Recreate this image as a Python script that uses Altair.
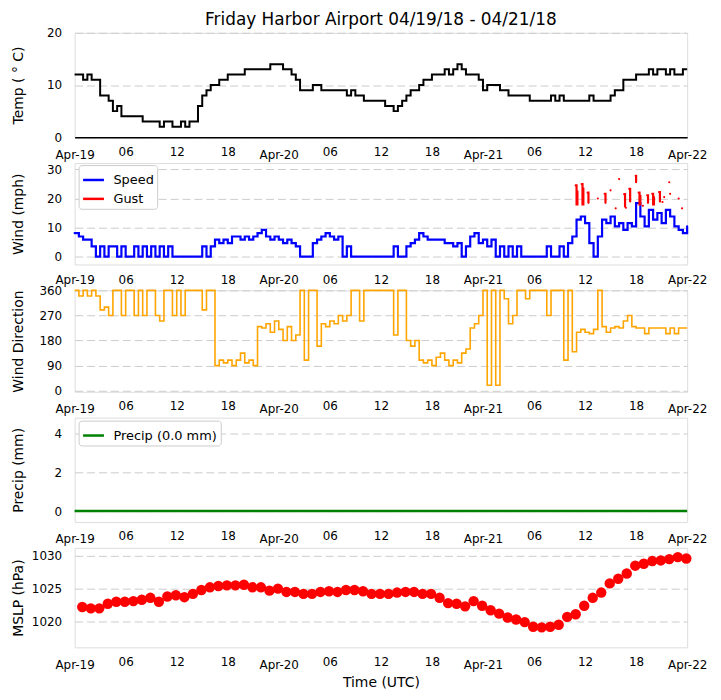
import altair as alt
import pandas as pd

FONT = "DejaVu Sans"
TITLE = "Friday Harbor Airport 04/19/18 - 04/21/18"
TICK_HOURS = [0, 6, 12, 18, 24, 30, 36, 42, 48, 54, 60, 66, 72]

# half-hourly samples starting 2018-04-19 00:00 UTC (hour 0 .. 72)
TEMP_C = [
    12, 12, 11, 12, 11, 11, 8, 8, 7, 5, 6, 4, 4, 4, 4, 4, 3, 3, 3, 3,
    2, 3, 3, 2, 2, 3, 2, 3, 3, 6, 8, 9, 10, 10, 11, 11, 12, 12, 12, 12,
    13, 13, 13, 13, 13, 13, 14, 14, 14, 13, 13, 12, 11, 9, 9, 9, 10, 10, 9, 9,
    9, 9, 9, 9, 8, 9, 8, 8, 7, 7, 7, 7, 7, 6, 6, 5, 6, 7, 8, 9,
    9, 10, 11, 11, 12, 12, 12, 13, 12, 13, 14, 13, 12, 12, 12, 11, 9, 10, 10, 10,
    9, 9, 8, 8, 8, 8, 8, 7, 7, 7, 7, 7, 8, 7, 8, 7, 7, 7, 7, 7,
    7, 8, 7, 7, 7, 7, 8, 9, 9, 11, 11, 11, 12, 12, 12, 13, 12, 13, 13, 12,
    13, 12, 12, 13, 13,
]

WIND_MPH = [
    8.1, 6.9, 5.8, 5.8, 3.5, 0, 3.5, 0, 3.5, 3.5, 0, 3.5, 0, 0, 3.5, 0, 3.5, 0, 3.5, 0,
    3.5, 0, 3.5, 0, 0, 0, 0, 0, 0, 0, 3.5, 0, 3.5, 5.8, 4.6, 5.8, 4.6, 6.9, 6.9, 5.8,
    6.9, 5.8, 6.9, 8.1, 9.2, 6.9, 5.8, 6.9, 5.8, 4.6, 5.8, 4.6, 3.5, 0, 0, 0, 4.6, 5.8, 6.9, 8.1,
    6.9, 5.8, 6.9, 0, 3.5, 0, 0, 0, 0, 0, 0, 0, 0, 0, 0, 3.5, 0, 0, 3.5, 4.6,
    5.8, 8.1, 6.9, 5.8, 5.8, 5.8, 5.8, 4.6, 4.6, 3.5, 4.6, 0, 3.5, 6.9, 8.1, 4.6, 5.8, 3.5, 5.8, 0,
    3.5, 0, 3.5, 0, 3.5, 0, 0, 0, 0, 0, 0, 3.5, 0, 0, 3.5, 0, 4.6, 6.9, 12.7, 13.8,
    11.5, 4.6, 0, 6.9, 12.7, 11.5, 13.8, 10.4, 11.5, 9.2, 11.5, 10.4, 18.4, 13.8, 10.4, 16.1, 12.7, 15.0, 11.5, 16.1,
    13.8, 10.4, 9.2, 8.1, 10.4,
]

WIND_DIR = [
    360, 340, 360, 340, 360, 340, 290, 300, 270, 360, 360, 270, 360, 360, 270, 360, 270, 360, 360, 270,
    250, 360, 360, 270, 360, 270, 360, 360, 360, 360, 290, 360, 360, 90, 110, 100, 110, 90, 110, 135,
    100, 110, 90, 230, 225, 240, 210, 250, 220, 180, 230, 180, 200, 360, 110, 360, 360, 160, 240, 230,
    250, 240, 270, 250, 270, 360, 360, 250, 360, 360, 360, 360, 360, 360, 360, 200, 360, 360, 180, 160,
    180, 110, 100, 110, 90, 120, 135, 110, 90, 110, 100, 135, 150, 225, 240, 270, 360, 20, 360, 20,
    360, 330, 240, 270, 360, 360, 330, 360, 360, 360, 360, 270, 360, 360, 360, 110, 360, 140, 210, 220,
    210, 205, 220, 360, 230, 210, 225, 230, 225, 250, 270, 230, 225, 225, 205, 225, 225, 225, 225, 205,
    225, 205, 225, 225, 225,
]

# gust reports (hour, mph, run id)
GUST_HOURS = [58.9, 59.0, 59.1, 59.6, 59.7, 59.8, 60.3, 60.4, 61.5, 62.3, 62.4, 63.0, 63.6, 64.0,
              64.6, 64.7, 64.8, 65.2, 65.3, 65.95, 66.0, 66.3, 66.4, 66.5, 66.8, 67.3, 67.4,
              67.9, 68.0, 68.1, 68.7, 68.8, 69.1, 69.3, 69.9, 70.0, 71.0, 71.4]
GUST_MPH = [24.5, 18, 22.5, 25, 18, 23.5, 22, 18.5, 20, 21.6, 18.5, 22.8, 16.6, 26.7,
            21.5, 17.2, 16.8, 23.3, 19, 27.8, 25.6, 22, 18, 21, 17.5, 21.1, 18.5,
            21.6, 18, 20.5, 22.2, 19, 18.8, 20.5, 25.6, 21.6, 20, 16.6]
GUST_RUN = [0, 0, 0, 1, 1, 1, 2, 2, 3, 4, 4, 5, 6, 7,
            8, 8, 9, 10, 10, 11, 11, 12, 12, 12, 13, 14, 14,
            15, 15, 15, 16, 16, 17, 18, 19, 20, 21, 22]

# hourly observations at HH:53
MSLP_HPA = [
    1022.2, 1022.0, 1022.0, 1022.7, 1023.0, 1023.0, 1023.1, 1023.3, 1023.6, 1023.0,
    1023.8, 1024.0, 1023.7, 1024.2, 1024.8, 1025.2, 1025.4, 1025.5, 1025.5, 1025.6,
    1025.2, 1025.2, 1024.7, 1025.0, 1024.5, 1024.5, 1024.2, 1024.2, 1024.5, 1024.6,
    1024.5, 1024.8, 1024.8, 1024.6, 1024.2, 1024.2, 1024.2, 1024.4, 1024.5, 1024.5,
    1024.2, 1024.2, 1023.6, 1022.8, 1022.7, 1022.3, 1023.1, 1022.4, 1021.7, 1021.2,
    1020.6, 1020.3, 1019.9, 1019.2, 1019.1, 1019.2, 1019.5, 1020.7, 1021.1, 1022.4,
    1023.6, 1024.4, 1025.8, 1026.5, 1027.3, 1028.5, 1028.8, 1029.2, 1029.3, 1029.5,
    1029.8, 1029.6,
]

PRECIP_MM = [
    0.0, 0.0, 0.0, 0.0, 0.0, 0.0, 0.0, 0.0, 0.0, 0.0, 0.0, 0.0, 0.0, 0.0, 0.0, 0.0, 0.0, 0.0, 0.0, 0.0,
    0.0, 0.0, 0.0, 0.0, 0.0, 0.0, 0.0, 0.0, 0.0, 0.0, 0.0, 0.0, 0.0, 0.0, 0.0, 0.0, 0.0, 0.0, 0.0, 0.0,
    0.0, 0.0, 0.0, 0.0, 0.0, 0.0, 0.0, 0.0, 0.0, 0.0, 0.0, 0.0, 0.0, 0.0, 0.0, 0.0, 0.0, 0.0, 0.0, 0.0,
    0.0, 0.0, 0.0, 0.0, 0.0, 0.0, 0.0, 0.0, 0.0, 0.0, 0.0, 0.0, 0.0,
]

half_hours = [i * 0.5 for i in range(len(TEMP_C))]
obs_hours = [k + 0.9 for k in range(len(MSLP_HPA))]
precip_hours = list(range(len(PRECIP_MM)))

df_temp = pd.DataFrame({"h": half_hours, "v": TEMP_C})
df_speed = pd.DataFrame({"h": half_hours, "v": WIND_MPH, "series": "Speed", "run": -1})
df_gust = pd.DataFrame({"h": GUST_HOURS, "v": GUST_MPH, "series": "Gust", "run": GUST_RUN})
# a lone gust report becomes a zero-length path (drawn as a dot by the round cap)
lone = df_gust[df_gust.groupby("run")["h"].transform("size") == 1]
df_wind = pd.concat([df_speed, df_gust, lone], ignore_index=True)
df_dir = pd.DataFrame({"h": half_hours, "v": WIND_DIR})
df_precip = pd.DataFrame({"h": precip_hours, "v": PRECIP_MM, "series": "Precip (0.0 mm)"})
df_mslp = pd.DataFrame({"h": obs_hours, "v": MSLP_HPA})

W = 616
LABEL_EXPR = ("datum.value == 0 ? 'Apr-19' : datum.value == 24 ? 'Apr-20' : "
              "datum.value == 48 ? 'Apr-21' : datum.value == 72 ? 'Apr-22' : "
              "(datum.value % 24 < 10 ? '0' : '') + (datum.value % 24)")
XSCALE = alt.Scale(domain=[0, 72], nice=False, zero=False)
COND_PAD = {"condition": {"test": "datum.value % 24 == 0", "value": 12}, "value": 9}


def x_enc(domain=False, title=None, pad=COND_PAD):
    return alt.X(
        "h:Q",
        scale=XSCALE,
        axis=alt.Axis(
            values=TICK_HOURS, labelExpr=LABEL_EXPR, title=title, grid=False, ticks=False,
            domain=domain, domainColor="black", domainWidth=1.5, labelFlush=False,
            labelOverlap=False, labelFontSize=12, labelFont=FONT, labelColor="black",
            labelPadding=pad,
            titleFontSize=14, titleFont=FONT, titleFontWeight="normal", titleColor="black",
            titlePadding=5,
        ),
    )


def y_enc(domain, values, title, height):
    return alt.Y(
        "v:Q",
        scale=alt.Scale(domain=domain, nice=False, zero=False),
        axis=alt.Axis(
            values=values, format="d", title=title, grid=True, gridDash=[8, 4],
            gridColor="#cccccc", gridWidth=1, ticks=False, domain=False, labelPadding=13,
            labelFontSize=12, labelFont=FONT, labelColor="black", titleX=-56,
            titleY=height / 2, titleBaseline="middle", titleFontSize=14, titleFont=FONT,
            titleFontWeight="normal", titleColor="black",
        ),
    )


def legend(x, y):
    return alt.Legend(
        title=None, orient="none", legendX=x, legendY=y, symbolType="stroke",
        symbolStrokeWidth=2.5, symbolSize=441, labelFontSize=13, labelFont=FONT,
        labelColor="black", strokeColor="#cccccc", fillColor="white", padding=3,
        cornerRadius=3, rowPadding=-1, labelOffset=8,
    )


H_T, H_W, H_D, H_P, H_M = 105, 102, 102, 105, 100

temp = alt.Chart(df_temp).mark_line(color="black", strokeWidth=2, interpolate="step-after").encode(
    x=x_enc(domain=True),
    y=y_enc([0, 20], [0, 10, 20], "Temp ( \u00b0 C)", H_T),
).properties(
    width=W, height=H_T,
    title=alt.TitleParams(TITLE, frame="group", fontSize=17, font=FONT, fontWeight="normal",
                          color="black", offset=-2),
)

wind = alt.Chart(df_wind).mark_line(
    strokeWidth=2.2, interpolate="step-after", strokeCap="round"
).encode(
    x=x_enc(pad=10),
    y=y_enc([-2.74, 32.2], [0, 10, 20, 30], "Wind (mph)", H_W),
    color=alt.Color(
        "series:N",
        scale=alt.Scale(domain=["Speed", "Gust"], range=["#0000ff", "#ff0000"]),
        legend=legend(4, 2),
    ),
    detail="run:N",
).properties(width=W, height=H_W)

wdir = alt.Chart(df_dir).mark_line(color="#ffa500", strokeWidth=1.6, interpolate="step-after").encode(
    x=x_enc(),
    y=y_enc([-3.6, 360], [0, 90, 180, 270, 360], "Wind Direction", H_D),
).properties(width=W, height=H_D)

precip = alt.Chart(df_precip).mark_line(strokeWidth=2.5).encode(
    x=x_enc(),
    y=y_enc([-0.564, 4.82], [0, 2, 4], "Precip (mm)", H_P),
    color=alt.Color("series:N", scale=alt.Scale(domain=["Precip (0.0 mm)"], range=["#008000"]),
                    legend=legend(4, 3)),
).properties(width=W, height=H_P)

mslp = alt.Chart(df_mslp).mark_circle(color="#ff0000", size=110, opacity=1).encode(
    x=x_enc(title="Time (UTC)"),
    y=y_enc([1016.06, 1031.21], [1020, 1025, 1030], "MSLP (hPa)", H_M),
).properties(width=W, height=H_M)

chart = alt.vconcat(temp, wind, wdir, precip, mslp, spacing=26, bounds="flush").resolve_scale(
    color="independent"
).resolve_legend(color="independent").properties(
    padding={"left": 3, "top": 0, "right": 5, "bottom": 5}
).configure_view(stroke=None).configure(font=FONT)

chart.save("out.html", embed_options={"renderer": "svg", "actions": False})
